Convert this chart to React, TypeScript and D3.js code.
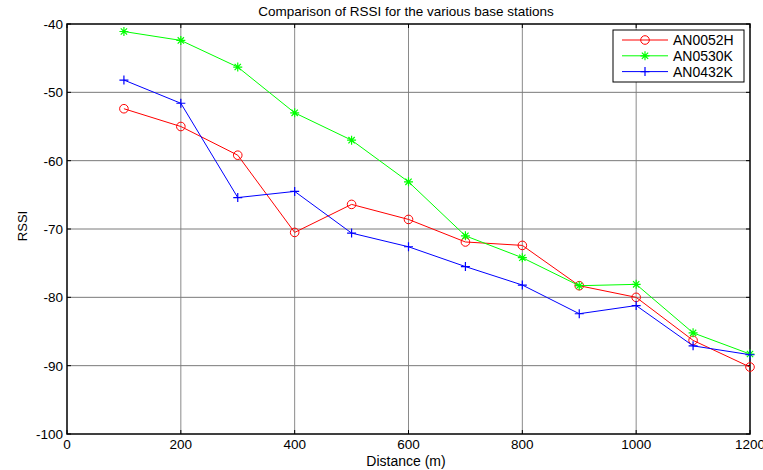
import * as d3 from 'd3'
import React, { useRef, useEffect } from 'react'

const distances = [100, 200, 300, 400, 500, 600, 700, 800, 900, 1000, 1100, 1200]
const an0052h = [-52.4, -55.0, -59.2, -70.5, -66.4, -68.6, -71.9, -72.4, -78.3, -80.0, -86.3, -90.2]
const an0530k = [-41.1, -42.4, -46.3, -53.0, -57.0, -63.1, -71.0, -74.2, -78.3, -78.1, -85.2, -88.3]
const an0432k = [-48.2, -51.6, -65.4, -64.5, -70.6, -72.6, -75.5, -78.2, -82.4, -81.2, -87.1, -88.4]
const xTicks = [0, 200, 400, 600, 800, 1000, 1200]
const yTicks = [-40, -50, -60, -70, -80, -90, -100]

const series = [
  { name: 'AN0052H', values: an0052h, color: '#ff0000', marker: 'circle' },
  { name: 'AN0530K', values: an0530k, color: '#00ff00', marker: 'star' },
  { name: 'AN0432K', values: an0432k, color: '#0000ff', marker: 'plus' },
]

const W = 763
const H = 470
const margin = { top: 24, right: 13, bottom: 36, left: 67 }

const drawMarker = (g: any, type: string, x: number, y: number, color: string) => {
  if (type === 'circle') {
    g.append('circle').attr('cx', x).attr('cy', y).attr('r', 4.3)
      .attr('fill', 'none').attr('stroke', color).attr('stroke-width', 1)
  } else if (type === 'plus') {
    const s = 4.5
    g.append('path').attr('d', `M${x - s},${y}H${x + s}M${x},${y - s}V${y + s}`)
      .attr('stroke', color).attr('stroke-width', 1.2)
  } else {
    const s = 4.5
    const d2 = s * 0.7
    g.append('path')
      .attr('d', `M${x - s},${y}H${x + s}M${x},${y - s}V${y + s}M${x - d2},${y - d2}L${x + d2},${y + d2}M${x - d2},${y + d2}L${x + d2},${y - d2}`)
      .attr('stroke', color).attr('stroke-width', 1.2)
  }
}

const App = () => {
  const ref = useRef<SVGSVGElement>(null)

  useEffect(() => {
    const svg = d3.select(ref.current)
    svg.selectAll('*').remove()
    const iw = W - margin.left - margin.right
    const ih = H - margin.top - margin.bottom

    const x = d3.scaleLinear().domain([0, 1200]).range([margin.left, margin.left + iw])
    const y = d3.scaleLinear().domain([-100, -40]).range([margin.top + ih, margin.top])

    svg.append('rect').attr('width', W).attr('height', H).attr('fill', '#fff')

    // grid
    const grid = svg.append('g')
    xTicks.slice(1, -1).forEach(t => {
      grid.append('line').attr('x1', x(t)).attr('x2', x(t))
        .attr('y1', margin.top).attr('y2', margin.top + ih)
        .attr('stroke', '#8a8a8a').attr('stroke-width', 1)
    })
    yTicks.slice(1, -1).forEach(t => {
      grid.append('line').attr('x1', margin.left).attr('x2', margin.left + iw)
        .attr('y1', y(t)).attr('y2', y(t))
        .attr('stroke', '#7a7a7a').attr('stroke-width', 1)
    })

    // frame
    svg.append('rect').attr('x', margin.left).attr('y', margin.top)
      .attr('width', iw).attr('height', ih)
      .attr('fill', 'none').attr('stroke', '#000').attr('stroke-width', 1.5)

    // ticks
    const ticks = svg.append('g').attr('stroke', '#000').attr('stroke-width', 1)
    xTicks.forEach(t => {
      ticks.append('line').attr('x1', x(t)).attr('x2', x(t)).attr('y1', margin.top + ih).attr('y2', margin.top + ih - 4)
      ticks.append('line').attr('x1', x(t)).attr('x2', x(t)).attr('y1', margin.top).attr('y2', margin.top + 4)
    })
    yTicks.forEach(t => {
      ticks.append('line').attr('x1', margin.left).attr('x2', margin.left + 4).attr('y1', y(t)).attr('y2', y(t))
      ticks.append('line').attr('x1', margin.left + iw).attr('x2', margin.left + iw - 4).attr('y1', y(t)).attr('y2', y(t))
    })

    const font = 'Liberation Sans, Arial, sans-serif'
    xTicks.forEach(t => {
      svg.append('text').attr('x', x(t)).attr('y', margin.top + ih + 15)
        .attr('text-anchor', 'middle').attr('font-family', font).attr('font-size', 13.5)
        .text(t)
    })
    yTicks.forEach(t => {
      svg.append('text').attr('x', margin.left - 4).attr('y', y(t) + 5)
        .attr('text-anchor', 'end').attr('font-family', font).attr('font-size', 13.5)
        .text(t)
    })

    svg.append('text').attr('x', 406).attr('y', 16).attr('text-anchor', 'middle')
      .attr('font-family', font).attr('font-size', 13.5)
      .text('Comparison of RSSI for the various base stations')
    svg.append('text').attr('x', 406).attr('y', 466).attr('text-anchor', 'middle')
      .attr('font-family', font).attr('font-size', 14)
      .text('Distance (m)')
    svg.append('text').attr('transform', `translate(27,${226}) rotate(-90)`)
      .attr('text-anchor', 'middle').attr('font-family', font).attr('font-size', 13)
      .text('RSSI')

    const line = d3.line<number>().x((_, i) => x(distances[i])).y(d => y(d))
    series.forEach(s => {
      const g = svg.append('g')
      g.append('path').datum(s.values).attr('d', line)
        .attr('fill', 'none').attr('stroke', s.color).attr('stroke-width', 1)
      s.values.forEach((v, i) => drawMarker(g, s.marker, x(distances[i]), y(v), s.color))
    })

    // legend
    const lg = svg.append('g')
    lg.append('rect').attr('x', 613).attr('y', 30).attr('width', 131).attr('height', 52)
      .attr('fill', '#fff').attr('stroke', '#000').attr('stroke-width', 1)
    series.forEach((s, i) => {
      const ly = 40 + i * 15.8
      lg.append('line').attr('x1', 622).attr('x2', 668).attr('y1', ly).attr('y2', ly)
        .attr('stroke', s.color).attr('stroke-width', 1)
      drawMarker(lg, s.marker, 645, ly, s.color)
      lg.append('text').attr('x', 673).attr('y', ly + 5)
        .attr('font-family', font).attr('font-size', 14).text(s.name)
    })
  }, [])

  return (
    <svg ref={ref} width={W} height={H} style={{ position: 'absolute', left: 0, top: 0, display: 'block' }} />
  )
}

export default App
